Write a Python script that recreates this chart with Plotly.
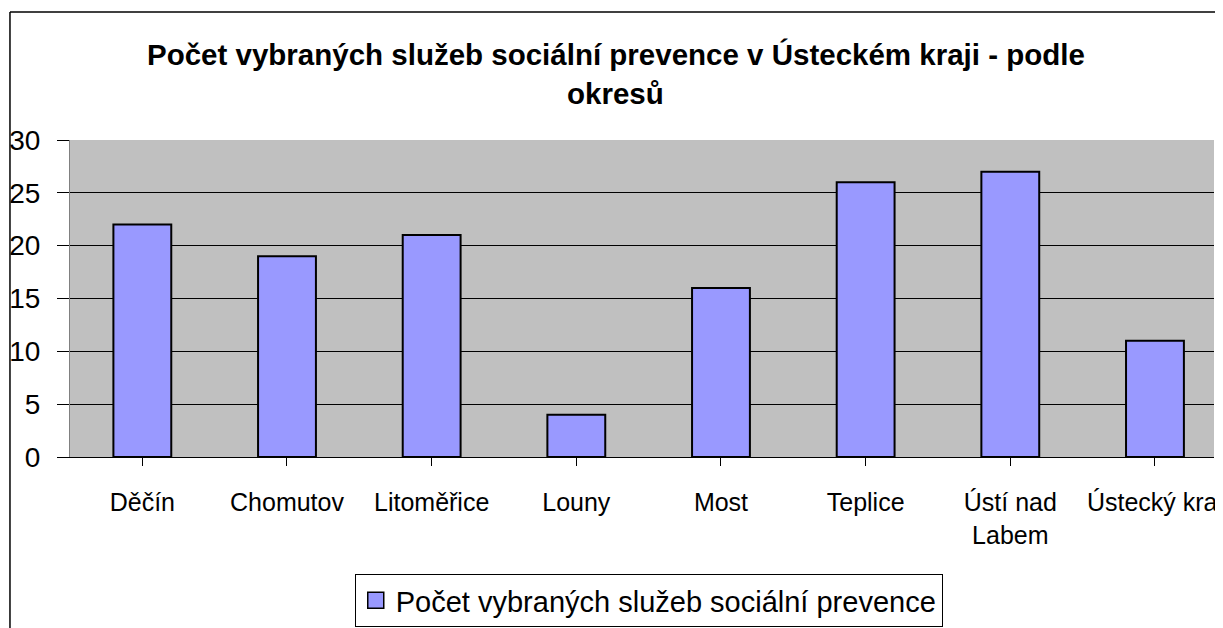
import plotly.graph_objects as go

# data
districts = ["Děčín", "Chomutov", "Litoměřice", "Louny", "Most", "Teplice",
             "Ústí nad<br>Labem", "Ústecký kraj"]
service_counts = [22, 19, 21, 4, 16, 26, 27, 11]
series_name = "Počet vybraných služeb sociální prevence"
title_lines = ["Počet vybraných služeb sociální prevence v Ústeckém kraji - podle",
               "okresů"]
y_ticks = [0, 5, 10, 15, 20, 25, 30]

# the page body adds an 8px margin, so the figure is 8px smaller than the window
W, H = 1215, 620
ML, MT, MB = 62, 132, 171
PW, PH = W - ML, H - MT - MB
CAT_W = 145.8  # pixels per category in the reference
FONT = "Arial, Liberation Sans, sans-serif"
BAR_COLOR = "#9999FF"


def px_x(x):
    return (x - ML) / PW


def px_y(y):
    return (H - MB - y) / PH


fig = go.Figure()
fig.add_trace(
    go.Bar(
        x=list(range(len(districts))),
        y=service_counts,
        name=series_name,
        width=0.4,
        showlegend=False,
        marker=dict(color=BAR_COLOR, line=dict(color="black", width=2)),
    )
)
# legend entry only: bigger square swatch like the Excel legend
fig.add_trace(
    go.Scatter(
        x=[None], y=[None], mode="markers", name=series_name,
        marker=dict(symbol="square", size=16, color=BAR_COLOR,
                    line=dict(color="black", width=1.5)),
    )
)

fig.update_layout(
    width=W,
    height=H,
    margin=dict(l=ML, r=0, t=MT, b=MB, pad=0),
    paper_bgcolor="white",
    plot_bgcolor="#C0C0C0",
    font=dict(family=FONT, color="black"),
    showlegend=True,
    legend=dict(
        x=px_x(349), y=px_y(566), xanchor="left", yanchor="top",
        bgcolor="white", bordercolor="black", borderwidth=1,
        font=dict(size=29, family=FONT),
        itemsizing="trace",
    ),
)

fig.update_xaxes(
    range=[-0.5, PW / CAT_W - 0.5],
    tickmode="array",
    tickvals=list(range(len(districts))),
    ticktext=districts,
    tickson="boundaries",
    ticks="outside",
    ticklen=8,
    tickcolor="black",
    tickfont=dict(size=25),
    ticklabelstandoff=15,
    ticklabeloverflow="allow",
    showgrid=False,
    showline=True,
    linecolor="black",
    zeroline=False,
)
fig.update_yaxes(
    range=[0, 30],
    tickvals=y_ticks,
    ticks="outside",
    ticklen=12,
    tickcolor="black",
    tickfont=dict(size=28),
    ticklabelstandoff=11,
    showgrid=True,
    gridcolor="black",
    gridwidth=1,
    showline=True,
    linecolor="#808080",
    zeroline=False,
)

# chart frame (only left and top edges fall inside the picture)
fig.add_shape(type="line", xref="paper", yref="paper",
              x0=px_x(1.5), x1=px_x(W + 5), y0=px_y(4), y1=px_y(4),
              line=dict(color="black", width=1.5))
fig.add_shape(type="line", xref="paper", yref="paper",
              x0=px_x(1.5), x1=px_x(1.5), y0=px_y(4), y1=px_y(H + 5),
              line=dict(color="black", width=1.5))

# two-line title
for text, y in zip(title_lines, [47, 85]):
    fig.add_annotation(text=text, xref="paper", yref="paper",
                       x=px_x(612), y=px_y(y), xanchor="center", yanchor="middle",
                       showarrow=False, font=dict(size=29.5, family=FONT, weight="bold"))

fig.write_html("out.html")
